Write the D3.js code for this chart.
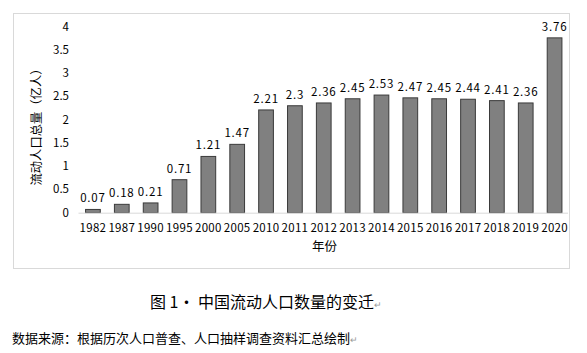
<!DOCTYPE html>
<html lang="zh">
<head>
<meta charset="UTF-8">
<title>中国流动人口数量的变迁</title>
<script src="https://cdn.jsdelivr.net/npm/d3@7"></script>
<style>
    body{ margin:0; background:#fff; }
    svg text{ font-family:"Noto Sans CJK SC", sans-serif; fill:#000; }
</style>
</head>
<body>
<script>
    // data
    const years = ["1982","1987","1990","1995","2000","2005","2010","2011","2012","2013","2014",
                   "2015","2016","2017","2018","2019","2020"]
    const people = [0.07,0.18,0.21,0.71,1.21,1.47,2.21,2.3,2.36,2.45,2.53,2.47,2.45,2.44,2.41,2.36,3.76]
    const yTicks = [0,0.5,1,1.5,2,2.5,3,3.5,4]

    const size = {width:587, height:353}
    const plot = {left:78.5, right:569, top:26.7, bottom:212.7}

    const svg = d3.select("body").append("svg")
        .attr("width",size.width).attr("height",size.height)

    // chart frame
    svg.append("rect")
        .attr("x",13.5).attr("y",13.5)
        .attr("width",556).attr("height",255)
        .attr("fill","none").attr("stroke","#d9d9d9")

    const x = d3.scaleBand().domain(years).range([plot.left,plot.right]).paddingInner(0.49).paddingOuter(0.245)
    const y = d3.scaleLinear().domain([0,4]).range([plot.bottom,plot.top])

    // y tick labels (no line)
    svg.append("g").selectAll("text")
        .data(yTicks).enter().append("text")
        .attr("x",69).attr("y",d=>y(d)).attr("dy","0.35em")
        .attr("text-anchor","end").attr("font-size",11.5)
        .text(d=>d)

    svg.selectAll(".bar")
        .data(people).enter().append("rect")
        .attr("class","bar")
        .attr("x",(d,i)=>x(years[i]))
        .attr("y",d=>y(d))
        .attr("width",x.bandwidth())
        .attr("height",d=>plot.bottom-y(d))
        .attr("fill","#808080").attr("stroke","#3a3a3a").attr("stroke-width",1)

    // baseline
    svg.append("line")
        .attr("x1",plot.left).attr("x2",plot.right-1)
        .attr("y1",plot.bottom+0.5).attr("y2",plot.bottom+0.5)
        .attr("stroke","#d9d9d9")

    // value labels
    svg.selectAll(".val")
        .data(people).enter().append("text")
        .attr("class","val")
        .attr("x",(d,i)=>x(years[i])+x.bandwidth()/2)
        .attr("y",d=>y(d)-7)
        .attr("text-anchor","middle").attr("font-size",11.5).attr("letter-spacing",0.8)
        .text(d=>d)

    // category labels
    svg.selectAll(".cat")
        .data(years).enter().append("text")
        .attr("class","cat")
        .attr("x",d=>x(d)+x.bandwidth()/2)
        .attr("y",228).attr("dy","0.35em")
        .attr("text-anchor","middle").attr("font-size",11.5).attr("letter-spacing",0.3)
        .text(d=>d)

    svg.append("text")
        .attr("x",324.5).attr("y",247).attr("dy","0.35em")
        .attr("text-anchor","middle").attr("font-size",12.5)
        .text("年份")

    svg.append("text")
        .attr("transform","translate(37,124) rotate(-90)")
        .attr("dy","0.35em")
        .attr("text-anchor","middle").attr("font-size",12.3)
        .text("流动人口总量（亿人）")

    // caption under the chart
    const cap = svg.append("text")
        .attr("x",266).attr("y",302).attr("dy","0.35em")
        .attr("text-anchor","middle").attr("font-size",16)
    cap.append("tspan").text("图 1· 中国流动人口数量的变迁")
    cap.append("tspan").attr("font-size",9).attr("fill","#999").text("↵")

    const src = svg.append("text")
        .attr("x",12).attr("y",338).attr("dy","0.35em")
        .attr("font-size",13)
    src.append("tspan").text("数据来源：根据历次人口普查、人口抽样调查资料汇总绘制")
    src.append("tspan").attr("font-size",9).attr("fill","#999").text("↵")
</script>
</body>
</html>
